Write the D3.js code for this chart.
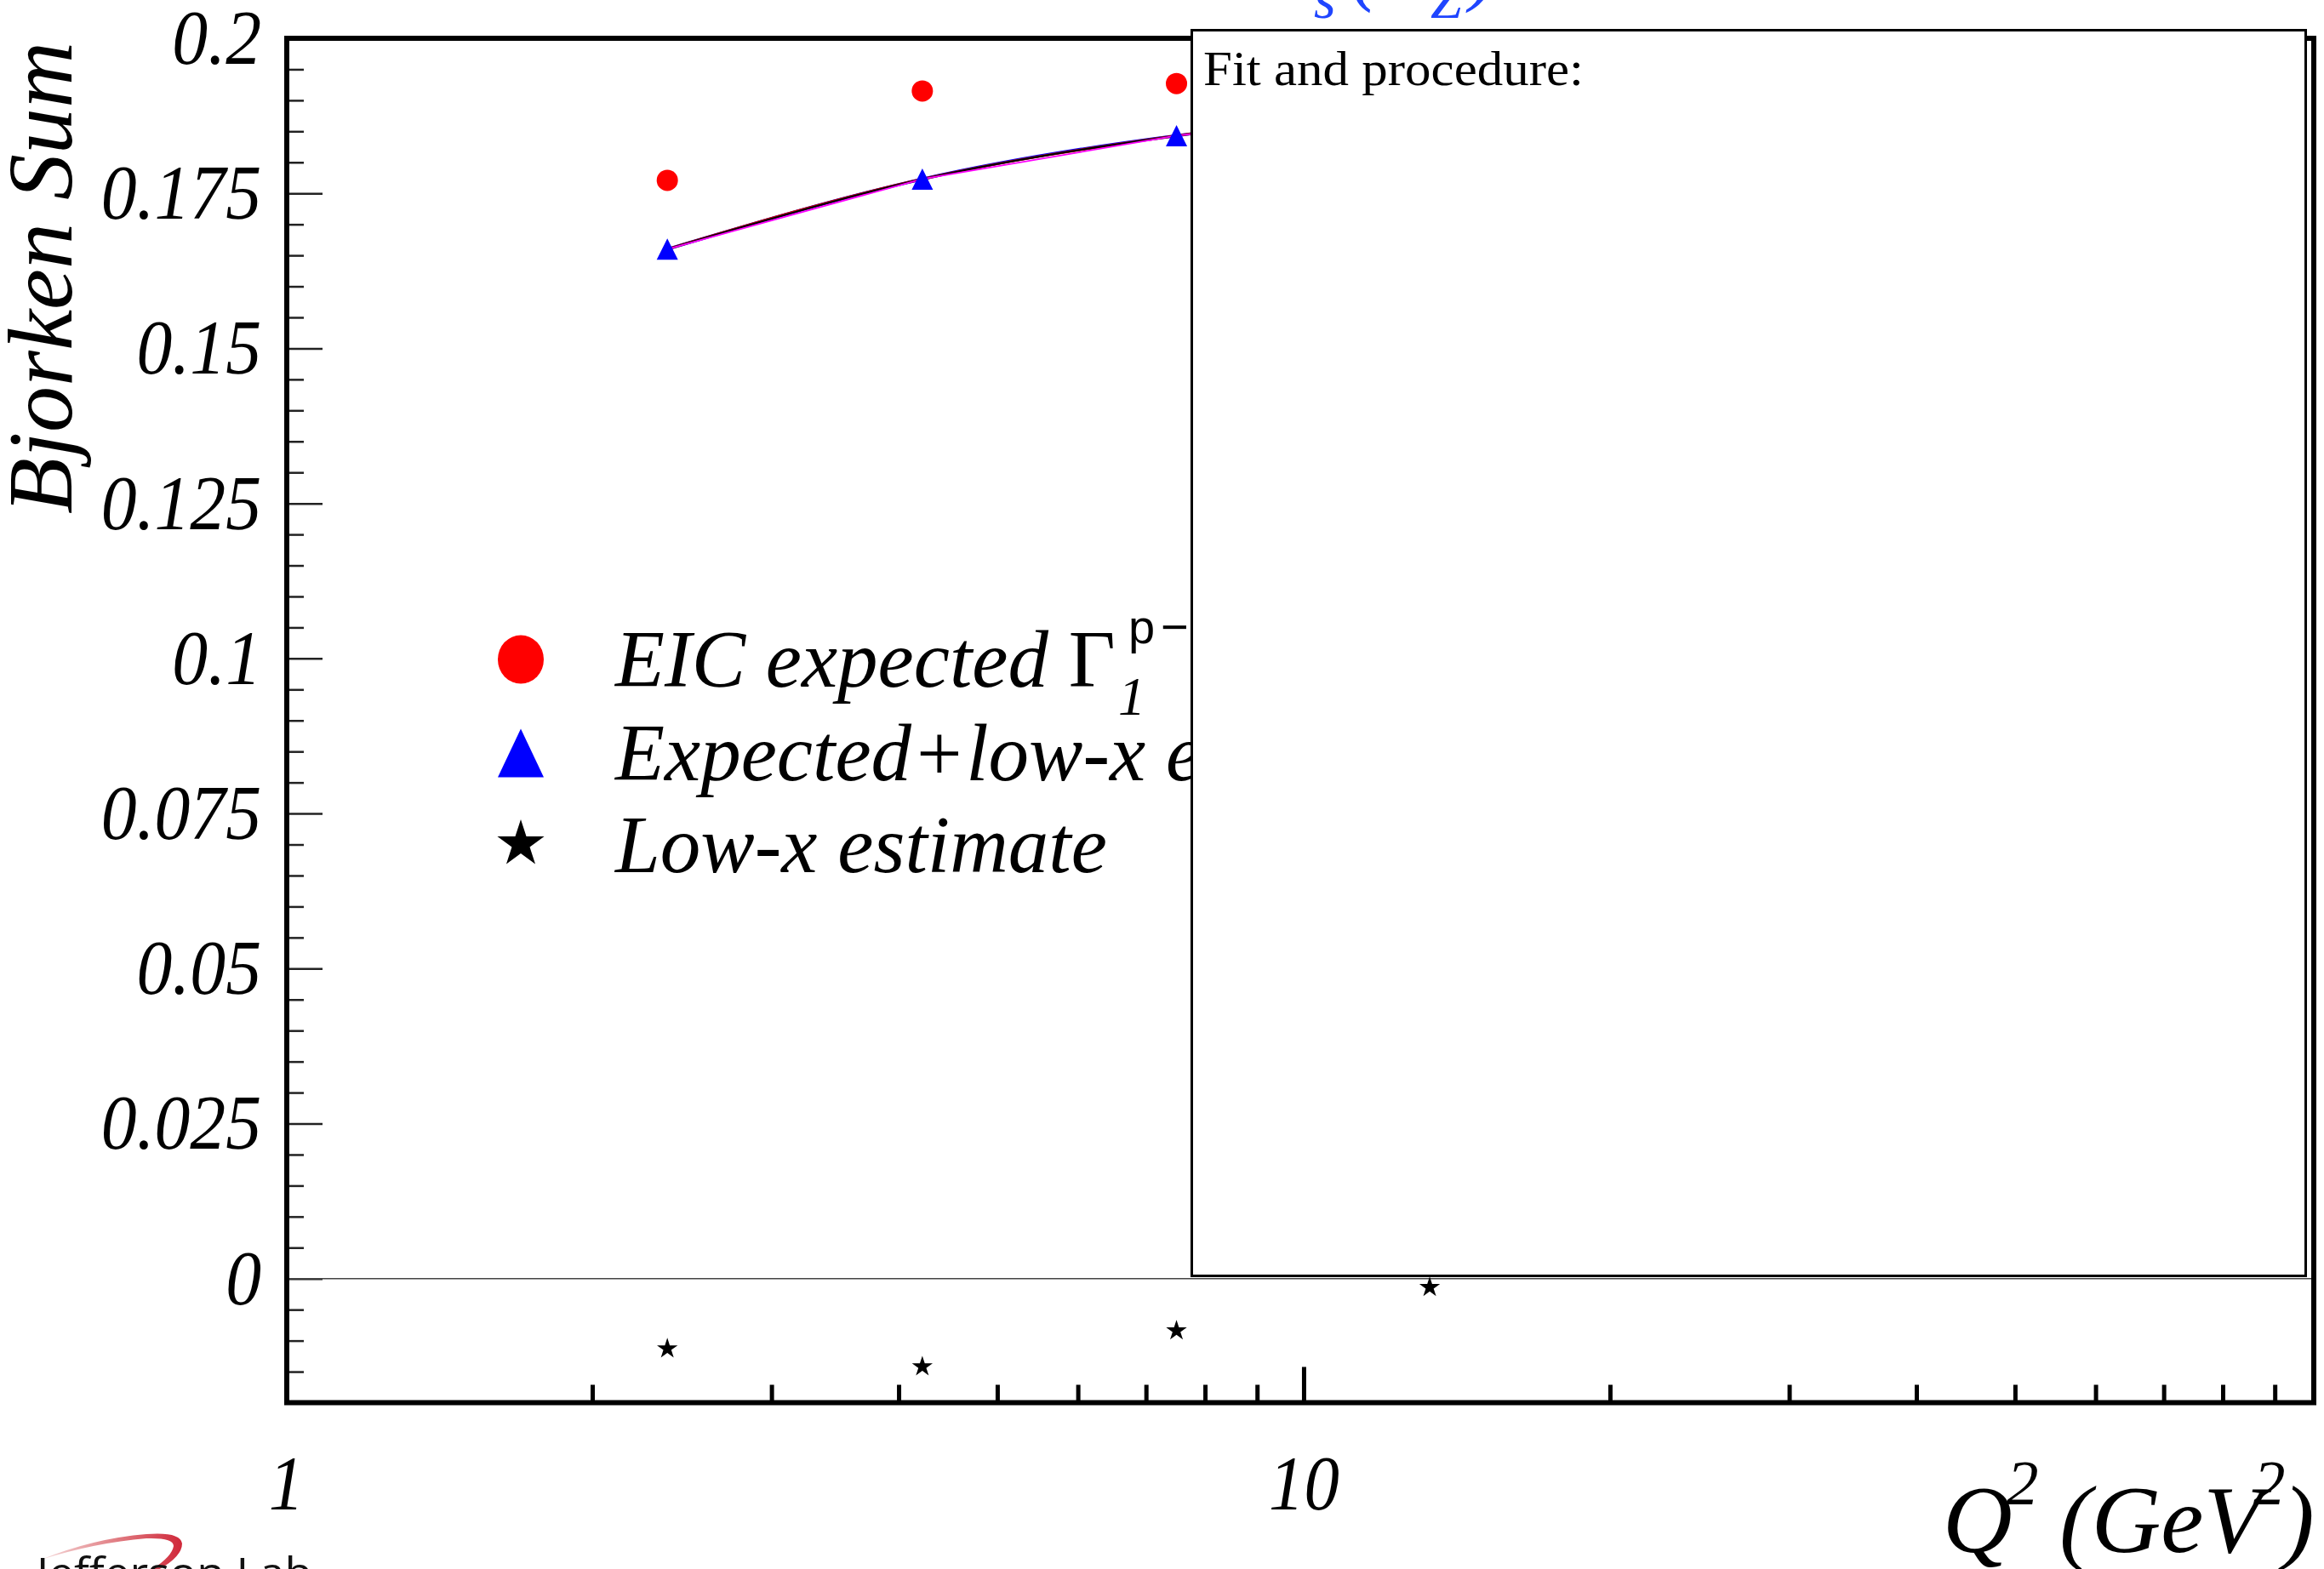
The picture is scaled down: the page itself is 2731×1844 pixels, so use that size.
<!DOCTYPE html>
<html>
<head>
<meta charset="utf-8">
<script src="https://cdn.jsdelivr.net/npm/d3@7"></script>
<style>
  html, body { margin: 0; padding: 0; background: #fff; }
  svg { display: block; }
</style>
</head>
<body>
<script>
// Q^2 bins (GeV^2) and the Bjorken sum values per bin
const q2 = [2.37, 4.22, 7.5, 13.3];
const eicExpected = [0.1771, 0.1915, 0.1927, 0.1902];
const expectedPlusLowX = [0.1660, 0.1773, 0.1843, 0.1888];
const lowXEstimate = [-0.0113, -0.0142, -0.0084, -0.0014];

// axis ticks
const yMajorTicks = [0, 0.025, 0.05, 0.075, 0.1, 0.125, 0.15, 0.175, 0.2];
const yTickLabels = ["0", "0.025", "0.05", "0.075", "0.1", "0.125", "0.15", "0.175", "0.2"];
const xMajorTicks = [1, 10];
const xTickLabels = ["1", "10"];
const xMinorTicks = [2, 3, 4, 5, 6, 7, 8, 9, 20, 30, 40, 50, 60, 70, 80, 90];

// legend entries
const legendLabels = ["EIC expected ", "Expected+low-x estimate", "Low-x estimate"];

const W = 2731, H = 1844;
const frame = { left: 337, right: 2719, top: 45, bottom: 1648.5 };

const svg = d3.select("body").append("svg")
  .attr("width", W).attr("height", H)
  .attr("viewBox", `0 0 ${W} ${H}`);

svg.append("rect").attr("width", W).attr("height", H).attr("fill", "#fff");

const x = d3.scaleLog().domain([1, 98.3]).range([336, frame.right]);
const y = d3.scaleLinear().domain([-0.02, 0.2]).range([frame.bottom, frame.top]);

const serif = "'Liberation Serif', 'Times New Roman', serif";
const sans = "'Liberation Sans', Arial, sans-serif";

// squeeze a text horizontally to a narrower set width
function condense(sel, k) {
  sel.each(function () {
    const len = this.getComputedTextLength();
    d3.select(this).attr("textLength", len * k).attr("lengthAdjust", "spacingAndGlyphs");
  });
}

// ---- y axis: inward ticks + italic labels
const yMinor = d3.range(-0.015, 0.2001, 0.005).filter(v => yMajorTicks.every(m => Math.abs(m - v) > 1e-6));
const yMinorG = svg.append("g").attr("transform", `translate(${frame.left},0)`)
  .call(d3.axisRight(y).tickValues(yMinor).tickSize(20).tickFormat(""));
const yMajorG = svg.append("g").attr("transform", `translate(${frame.left},0)`)
  .call(d3.axisRight(y).tickValues(yMajorTicks).tickSize(42).tickFormat(""));
[yMinorG, yMajorG].forEach(g => {
  g.select(".domain").remove();
  g.selectAll(".tick line").attr("stroke", "#222").attr("stroke-width", 2.5);
});
const yLab = svg.append("g").attr("transform", `translate(${frame.left},0)`)
  .call(d3.axisLeft(y).tickValues(yMajorTicks).tickSize(0).tickPadding(30)
    .tickFormat((d, i) => yTickLabels[i]));
yLab.select(".domain").remove();
yLab.selectAll("text")
  .attr("font-family", serif).attr("font-style", "italic")
  .attr("font-size", 92).attr("fill", "#000")
  .call(condense, 0.91);

// ---- x axis: inward ticks + italic labels
const xMinorG = svg.append("g").attr("transform", `translate(0,${frame.bottom})`)
  .call(d3.axisTop(x).tickValues(xMinorTicks).tickSize(21).tickFormat(""));
const xMajorG = svg.append("g").attr("transform", `translate(0,${frame.bottom})`)
  .call(d3.axisTop(x).tickValues(xMajorTicks).tickSize(42).tickFormat(""));
[xMinorG, xMajorG].forEach(g => {
  g.select(".domain").remove();
  g.selectAll(".tick line").attr("stroke", "#000").attr("stroke-width", 5);
});
const xLab = svg.append("g").attr("transform", `translate(0,${frame.bottom})`)
  .call(d3.axisBottom(x).tickValues(xMajorTicks).tickSize(0).tickPadding(62)
    .tickFormat((d, i) => xTickLabels[i]));
xLab.select(".domain").remove();
xLab.selectAll("text")
  .attr("font-family", serif).attr("font-style", "italic")
  .attr("font-size", 90).attr("fill", "#000")
  .call(condense, 0.92);

// ---- zero line
svg.append("line")
  .attr("x1", frame.left).attr("x2", frame.right)
  .attr("y1", y(0)).attr("y2", y(0))
  .attr("stroke", "#444").attr("stroke-width", 1.6);

// ---- fit curves through the expected+low-x points
const pts = q2.map((q, i) => ({ q, v: expectedPlusLowX[i] }));
const lineGen = c => d3.line().x(d => x(d.q)).y(d => y(d.v)).curve(c);
svg.append("path").attr("d", lineGen(d3.curveNatural)(pts))
  .attr("fill", "none").attr("stroke", "#0000ff").attr("stroke-width", 3.5);
svg.append("path").attr("d", lineGen(d3.curveMonotoneX)(pts))
  .attr("fill", "none").attr("stroke", "#cc0000").attr("stroke-width", 3);
svg.append("path").attr("d", lineGen(d3.curveCatmullRom)(pts))
  .attr("fill", "none").attr("stroke", "#000").attr("stroke-width", 2);
svg.append("path").attr("d", lineGen(d3.curveLinear)(pts))
  .attr("fill", "none").attr("stroke", "#ff00ff").attr("stroke-width", 1.8);

// ---- markers
function trianglePath(cx, cy, w, h) {
  return `M${cx},${cy - h / 2}L${cx + w / 2},${cy + h / 2}L${cx - w / 2},${cy + h / 2}Z`;
}
const starSize = R => (R * R) / 0.8908130915292852;

svg.append("g").selectAll("circle").data(q2.map((q, i) => [q, eicExpected[i]]))
  .join("circle")
  .attr("cx", d => x(d[0])).attr("cy", d => y(d[1]))
  .attr("r", 12.5).attr("fill", "#ff0000");

svg.append("g").selectAll("path").data(q2.map((q, i) => [q, expectedPlusLowX[i]]))
  .join("path")
  .attr("d", d => trianglePath(x(d[0]), y(d[1]), 25, 25))
  .attr("fill", "#0000ff");

svg.append("g").selectAll("path").data(q2.map((q, i) => [q, lowXEstimate[i]]))
  .join("path")
  .attr("transform", d => `translate(${x(d[0])},${y(d[1])})`)
  .attr("d", d3.symbol(d3.symbolStar, starSize(12.8)))
  .attr("fill", "#000");

// ---- legend
const legX = 612, legTextX = 723;
const legRows = [775, 885, 990];
const legBase = [807, 917, 1025];
svg.append("ellipse").attr("cx", legX).attr("cy", legRows[0]).attr("rx", 27).attr("ry", 28.5).attr("fill", "#ff0000");
svg.append("path").attr("d", trianglePath(legX, legRows[1], 54, 57)).attr("fill", "#0000ff");
svg.append("path").attr("transform", `translate(${legX},${legRows[2] + 2})`)
  .attr("d", d3.symbol(d3.symbolStar, starSize(29))).attr("fill", "#000");

const leg0 = svg.append("text").attr("x", legTextX).attr("y", legBase[0])
  .attr("font-family", serif).attr("font-size", 95);
leg0.append("tspan").attr("font-style", "italic").text(legendLabels[0]);
leg0.append("tspan").attr("font-style", "normal").text("\u0393");
svg.append("text").attr("x", 1314).attr("y", 840)
  .attr("font-family", serif).attr("font-style", "italic").attr("font-size", 64).text("1");
const sup = svg.append("text").attr("y", 756)
  .attr("font-family", sans).attr("font-size", 56).attr("font-weight", 300);
sup.append("tspan").attr("x", 1326).text("p");
sup.append("tspan").attr("x", 1364).text("\u2212n");

[1, 2].forEach(i => {
  svg.append("text").attr("x", legTextX).attr("y", legBase[i])
    .attr("font-family", serif).attr("font-style", "italic").attr("font-size", 95)
    .text(legendLabels[i]);
});

// ---- axis titles
svg.append("text")
  .attr("transform", "translate(84,49) rotate(-90)")
  .attr("text-anchor", "end")
  .attr("font-family", serif).attr("font-style", "italic").attr("font-size", 108)
  .text("Bjorken Sum");

const xt = svg.append("text")
  .attr("font-family", serif).attr("font-style", "italic");
xt.append("tspan").attr("x", 2283).attr("y", 1824).attr("font-size", 113).text("Q");
xt.append("tspan").attr("x", 2358).attr("y", 1768).attr("font-size", 75).text("2");
xt.append("tspan").attr("x", 2420).attr("y", 1824).attr("font-size", 113).text("(GeV");
xt.append("tspan").attr("x", 2648).attr("y", 1768).attr("font-size", 75).text("2");
xt.append("tspan").attr("x", 2682).attr("y", 1824).attr("font-size", 113).text(")");

// ---- plot title (runs off the top edge)
const title = svg.append("text")
  .attr("font-family", serif).attr("font-style", "italic").attr("fill", "#1f45ff");
title.append("tspan").attr("x", 1488).attr("y", -5).attr("font-size", 95).text("\u03b1");
title.append("tspan").attr("x", 1544).attr("y", 21).attr("font-size", 66).text("s");
title.append("tspan").attr("x", 1588).attr("y", -5).attr("font-size", 95).text("(M");
title.append("tspan").attr("x", 1681).attr("y", 21).attr("font-size", 66).text("Z");
title.append("tspan").attr("x", 1727).attr("y", -5).attr("font-size", 95).text(")");

// ---- frame
svg.append("rect")
  .attr("x", frame.left).attr("y", frame.top)
  .attr("width", frame.right - frame.left).attr("height", frame.bottom - frame.top)
  .attr("fill", "none").attr("stroke", "#000").attr("stroke-width", 6);

// ---- fit description pave
svg.append("rect")
  .attr("x", 1400.5).attr("y", 35.5).attr("width", 1309).attr("height", 1464)
  .attr("fill", "#fff").attr("stroke", "#000").attr("stroke-width", 3);
svg.append("text").attr("x", 1414).attr("y", 100)
  .attr("font-family", serif).attr("font-size", 58)
  .attr("textLength", 447).attr("lengthAdjust", "spacingAndGlyphs")
  .text("Fit and procedure:");

// ---- lab logo (bottom-left)
const defs = svg.append("defs");
const grad = defs.append("linearGradient").attr("id", "swoosh")
  .attr("x1", "0%").attr("x2", "100%").attr("y1", "0%").attr("y2", "0%");
grad.append("stop").attr("offset", "0%").attr("stop-color", "#f6dcdc");
grad.append("stop").attr("offset", "55%").attr("stop-color", "#e07a80");
grad.append("stop").attr("offset", "100%").attr("stop-color", "#d0283a");
svg.append("path")
  .attr("d", "M48,1833 Q110,1808 172,1803 Q212,1800 214,1814 Q214,1830 184,1846 L176,1846 Q202,1830 204,1817 Q204,1807 172,1808 Q112,1813 48,1833 Z")
  .attr("fill", "url(#swoosh)");
svg.append("text").attr("x", 43).attr("y", 1866)
  .attr("font-family", "'Open Sans', 'Noto Sans', sans-serif").attr("font-size", 50)
  .attr("textLength", 324).attr("lengthAdjust", "spacingAndGlyphs")
  .attr("fill", "#111").text("Jefferson Lab");
</script>
</body>
</html>
